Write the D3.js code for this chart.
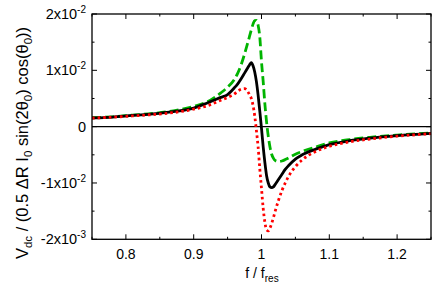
<!DOCTYPE html>
<html>
<head>
<meta charset="utf-8">
<script src="https://cdn.jsdelivr.net/npm/d3@7"></script>
<style>
body { margin: 0; background: #fff; }
svg { display: block; font-family: "Liberation Sans", Arial, sans-serif; }
</style>
</head>
<body>
<svg id="chart"></svg>
<script>
// f / f_res sample points
const freq = [0.75, 0.78, 0.81, 0.84, 0.87, 0.90, 0.92, 0.94, 0.95, 0.96, 0.965, 0.97, 0.975,
  0.98, 0.9825, 0.985, 0.9875, 0.99, 0.9925, 0.995, 0.9975, 1.0, 1.0025, 1.005, 1.0075, 1.01,
  1.0125, 1.015, 1.0175, 1.02, 1.025, 1.03, 1.035, 1.04, 1.05, 1.06, 1.08, 1.10, 1.13, 1.16,
  1.20, 1.25];

// values in units of 1e-2
const blackVals = [0.155, 0.17, 0.20, 0.225, 0.265, 0.33, 0.42, 0.52, 0.57, 0.69, 0.76, 0.85, 0.95,
  1.05, 1.10, 1.135, 1.08, 0.97, 0.80, 0.56, 0.27, -0.03, -0.36, -0.64, -0.87, -1.00,
  -1.07, -1.083, -1.07, -1.03, -0.94, -0.85, -0.76, -0.69, -0.575, -0.50, -0.40, -0.32, -0.25, -0.205,
  -0.16, -0.118];
const greenVals = [0.158, 0.175, 0.205, 0.235, 0.28, 0.36, 0.44, 0.60, 0.70, 0.84, 0.95, 1.10, 1.29,
  1.50, 1.61, 1.72, 1.82, 1.884, 1.888, 1.80, 1.59, 1.15, 0.80, 0.40, 0.08, -0.17,
  -0.36, -0.49, -0.56, -0.60, -0.62, -0.61, -0.585, -0.555, -0.49, -0.44, -0.36, -0.29, -0.23, -0.19,
  -0.15, -0.11];
const redVals = [0.152, 0.168, 0.19, 0.215, 0.25, 0.31, 0.37, 0.47, 0.52, 0.58, 0.63, 0.665, 0.675,
  0.62, 0.56, 0.50, 0.38, 0.19, -0.07, -0.36, -0.75, -1.10, -1.45, -1.70, -1.83, -1.85,
  -1.80, -1.72, -1.62, -1.51, -1.31, -1.14, -1.0, -0.88, -0.71, -0.59, -0.44, -0.35, -0.27, -0.22,
  -0.17, -0.125];

const xTicks = [0.8, 0.9, 1.0, 1.1, 1.2];
const xTickLabels = ["0.8", "0.9", "1", "1.1", "1.2"];
const xMinor = [0.75, 0.85, 0.95, 1.05, 1.15, 1.25];
const yTicks = [-0.02, -0.01, 0, 0.01, 0.02];
const yTickMant = ["-2x10", "-1x10", "0", "1x10", "2x10"];
const yTickExp = ["-3", "-2", "", "-2", "-2"];
const yMinor = [-0.015, -0.005, 0.005, 0.015];

const W = 436, H = 293;
const mLeft = 92, mRight = 431, mTop = 14, mBottom = 239.3;

const svg = d3.select('#chart')
  .attr('width', W)
  .attr('height', H)
  .attr('viewBox', [0, 0, W, H]);

const x = d3.scaleLinear().domain([0.75, 1.25]).range([mLeft, mRight]);
const y = d3.scaleLinear().domain([-0.02, 0.02]).range([mBottom, mTop]);

// ticks (inward, on all four sides)
const tk = svg.append('g').attr('stroke', '#000').attr('stroke-width', 1);
xTicks.forEach(v => {
  tk.append('line').attr('x1', x(v)).attr('x2', x(v)).attr('y1', mBottom).attr('y2', mBottom - 5);
  tk.append('line').attr('x1', x(v)).attr('x2', x(v)).attr('y1', mTop).attr('y2', mTop + 5);
});
xMinor.forEach(v => {
  tk.append('line').attr('x1', x(v)).attr('x2', x(v)).attr('y1', mBottom).attr('y2', mBottom - 2.5);
  tk.append('line').attr('x1', x(v)).attr('x2', x(v)).attr('y1', mTop).attr('y2', mTop + 2.5);
});
yTicks.forEach(v => {
  tk.append('line').attr('x1', mLeft).attr('x2', mLeft + 5).attr('y1', y(v)).attr('y2', y(v));
  tk.append('line').attr('x1', mRight).attr('x2', mRight - 5).attr('y1', y(v)).attr('y2', y(v));
});
yMinor.forEach(v => {
  tk.append('line').attr('x1', mLeft).attr('x2', mLeft + 2.5).attr('y1', y(v)).attr('y2', y(v));
  tk.append('line').attr('x1', mRight).attr('x2', mRight - 2.5).attr('y1', y(v)).attr('y2', y(v));
});

// zero line
svg.append('line')
  .attr('x1', mLeft).attr('x2', mRight)
  .attr('y1', y(0)).attr('y2', y(0))
  .attr('stroke', '#000').attr('stroke-width', 1.3);

// curves
const line = d3.line()
  .x(d => x(d[0]))
  .y(d => y(d[1] * 1e-2))
  .curve(d3.curveMonotoneX);

const series = [
  { vals: greenVals, color: '#00b400', width: 2.8, dash: '9,4' },
  { vals: blackVals, color: '#000', width: 2.8, dash: null },
  { vals: redVals, color: '#ff0000', width: 2.8, dash: '2.6,3' }
];
const plot = svg.append('g');
series.forEach(s => {
  plot.append('path')
    .datum(freq.map((f, i) => [f, s.vals[i]]))
    .attr('d', line)
    .attr('fill', 'none')
    .attr('stroke', s.color)
    .attr('stroke-width', s.width)
    .attr('stroke-dasharray', s.dash);
});

// frame
svg.append('rect')
  .attr('x', mLeft).attr('y', mTop)
  .attr('width', mRight - mLeft).attr('height', mBottom - mTop)
  .attr('fill', 'none').attr('stroke', '#000').attr('stroke-width', 1.3);

// x tick labels
svg.append('g').selectAll('text')
  .data(xTicks)
  .enter().append('text')
  .attr('x', d => x(d))
  .attr('y', 259)
  .attr('text-anchor', 'middle')
  .attr('font-size', 14)
  .text((d, i) => xTickLabels[i]);

// y tick labels
const yl = svg.append('g').selectAll('text')
  .data(yTicks)
  .enter().append('text')
  .attr('x', 86)
  .attr('y', d => y(d) + 5)
  .attr('text-anchor', 'end')
  .attr('font-size', 14.5);
yl.append('tspan').text((d, i) => yTickMant[i]);
yl.append('tspan')
  .attr('dy', (d, i) => yTickExp[i] ? -6 : 0)
  .attr('font-size', 10)
  .text((d, i) => yTickExp[i]);

// x title
const xt = svg.append('text')
  .attr('x', 262).attr('y', 278)
  .attr('text-anchor', 'middle')
  .attr('font-size', 14);
xt.append('tspan').text('f / f');
xt.append('tspan').attr('dy', 4).attr('font-size', 10).text('res');

// y title
const yt = svg.append('text')
  .attr('transform', 'translate(28,143) rotate(-90)')
  .attr('text-anchor', 'middle')
  .attr('font-size', 16.5);
yt.append('tspan').text('V');
yt.append('tspan').attr('dy', 4).attr('font-size', 11.5).text('dc');
yt.append('tspan').attr('dy', -4).text(' / (0.5 \u0394R I');
yt.append('tspan').attr('dy', 4).attr('font-size', 11.5).text('0');
yt.append('tspan').attr('dy', -4).text(' sin(2\u03B8');
yt.append('tspan').attr('dy', 4).attr('font-size', 11.5).text('0');
yt.append('tspan').attr('dy', -4).text(') cos(\u03B8');
yt.append('tspan').attr('dy', 4).attr('font-size', 11.5).text('0');
yt.append('tspan').attr('dy', -4).text('))');
</script>
</body>
</html>
